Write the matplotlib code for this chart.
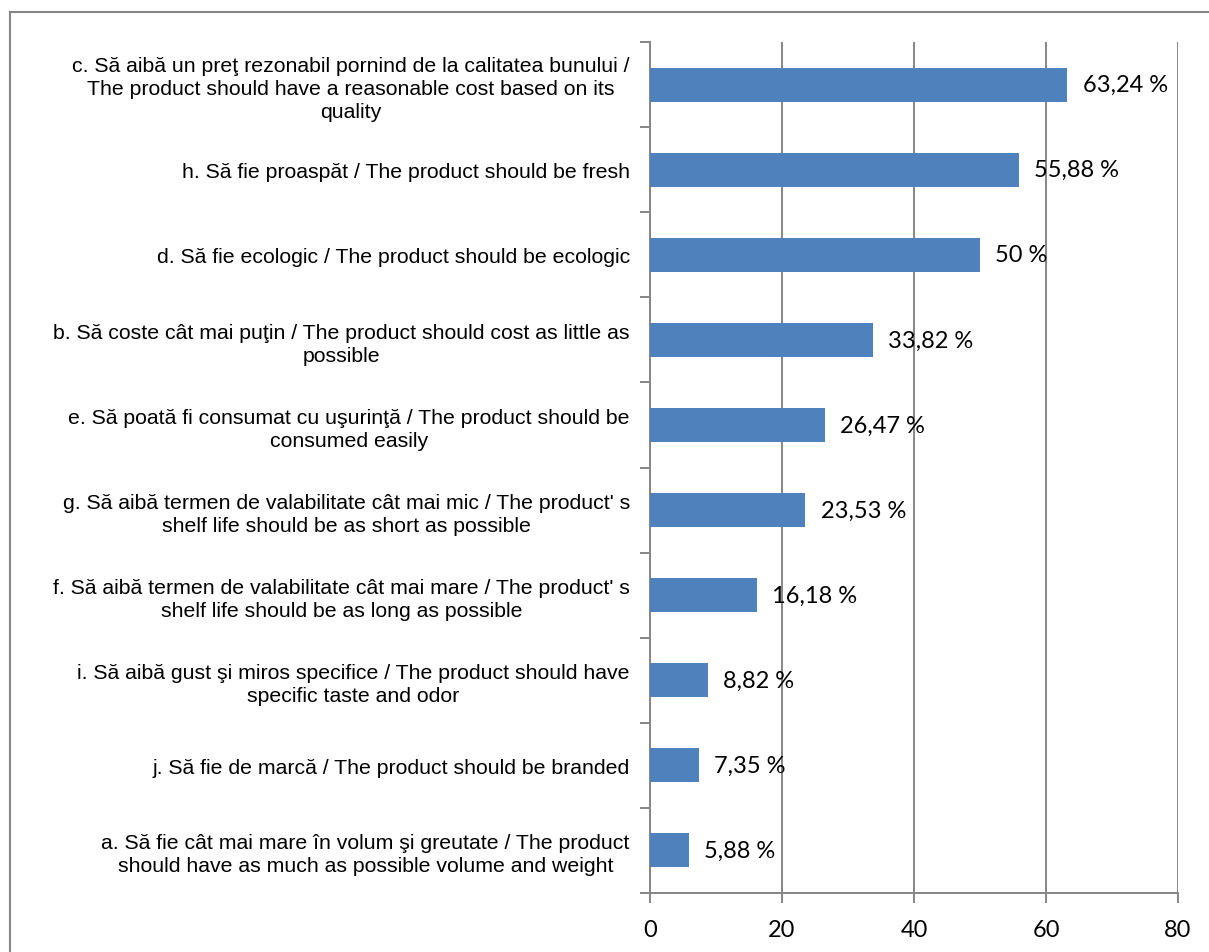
import numpy as np
import matplotlib
matplotlib.use("Agg")
import matplotlib.pyplot as plt
from matplotlib.lines import Line2D

# categories listed bottom -> top
categorii = [
    "a. Să fie cât mai mare în volum şi greutate / The product\nshould have as much as possible volume and weight",
    "j. Să fie de marcă / The product should be branded",
    "i. Să aibă gust şi miros specifice / The product should have\nspecific taste and odor",
    "f. Să aibă termen de valabilitate cât mai mare / The product' s\nshelf life should be as long as possible",
    "g. Să aibă termen de valabilitate cât mai mic / The product' s\nshelf life should be as short as possible",
    "e. Să poată fi consumat cu uşurinţă / The product should be\nconsumed easily",
    "b. Să coste cât mai puţin / The product should cost as little as\npossible",
    "d. Să fie ecologic / The product should be ecologic",
    "h. Să fie proaspăt / The product should be fresh",
    "c. Să aibă un preţ rezonabil pornind de la calitatea bunului /\nThe product should have a reasonable cost based on its\nquality",
]
procente = [5.88, 7.35, 8.82, 16.18, 23.53, 26.47, 33.82, 50, 55.88, 63.24]
etichete = ["5,88 %", "7,35 %", "8,82 %", "16,18 %", "23,53 %", "26,47 %",
            "33,82 %", "50 %", "55,88 %", "63,24 %"]
xticks = [0, 20, 40, 60, 80]

gri = "#868686"
albastru = "#4F81BD"

W, H = 1209, 953
fig = plt.figure(figsize=(W / 100, H / 100), dpi=100)
ax = fig.add_axes([650 / W, 1 - 894 / H, (1178 - 650) / W, (894 - 43) / H])

y = np.arange(len(categorii))
bare = ax.barh(y, procente, height=0.4, color=albastru, zorder=3)
ax.bar_label(bare, labels=etichete, padding=11, fontsize=17, family="Lato", color="black")

ax.set_xlim(0, 80)
ax.set_ylim(-0.5, len(categorii) - 0.5)
ax.set_xticks(xticks)
ax.set_xticklabels([str(t) for t in xticks], family="Lato", fontsize=17)
ax.tick_params(axis="x", length=7, width=1.4, color=gri, pad=12)

ax.set_yticks(y)
ax.set_yticklabels(categorii, family="Liberation Sans", fontsize=15.3,
                   multialignment="center", linespacing=1.27)
ax.tick_params(axis="y", which="major", length=0, pad=14.5)
ax.set_yticks(np.arange(-0.5, len(categorii), 1), minor=True)
ax.tick_params(axis="y", which="minor", length=7, width=1.4, color=gri)

ax.xaxis.grid(True, color=gri, linewidth=1.4, zorder=0)
ax.set_axisbelow(True)
for s in ["top", "right"]:
    ax.spines[s].set_visible(False)
for s in ["left", "bottom"]:
    ax.spines[s].set_color(gri)
    ax.spines[s].set_linewidth(1.4)

# chart border (only left and top edges visible)
fig.add_artist(Line2D([10 / W, 10 / W], [0, 1 - 13 / H], transform=fig.transFigure, color=gri, lw=1.5))
fig.add_artist(Line2D([10 / W, 1208 / W], [1 - 13 / H, 1 - 13 / H], transform=fig.transFigure, color=gri, lw=1.5))

fig.savefig("out.png", dpi=100, facecolor="white")
